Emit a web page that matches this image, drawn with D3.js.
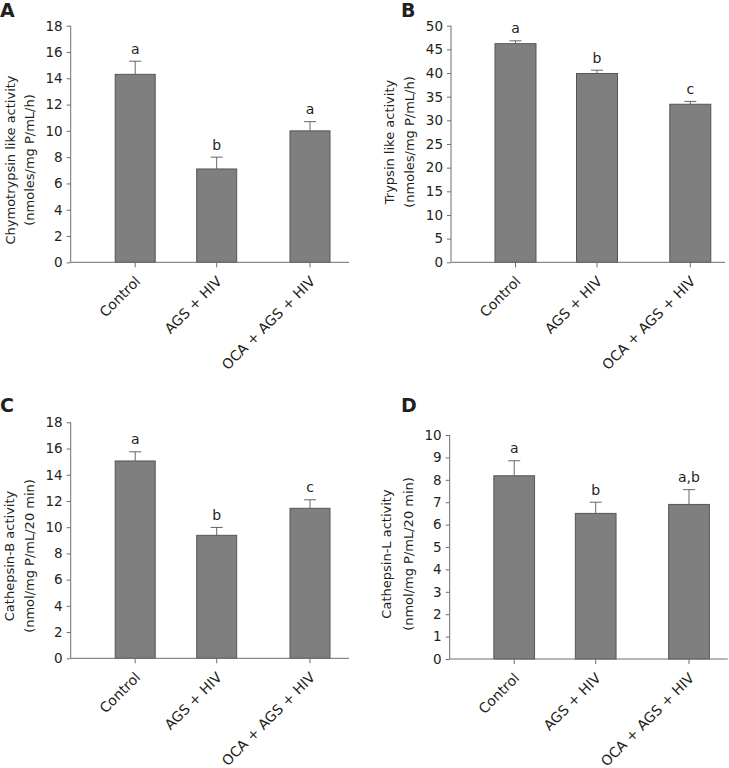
<!DOCTYPE html>
<html>
<head>
<meta charset="utf-8">
<script src="https://cdn.jsdelivr.net/npm/d3@7"></script>
<style>
  html, body { margin: 0; padding: 0; background: #fff; }
  svg text { font-family: "DejaVu Sans", Verdana, sans-serif; }
</style>
</head>
<body>
<svg id="chart" width="729" height="768"></svg>
<script>
// ---------- data ----------
const categories = ["Control", "AGS + HIV", "OCA + AGS + HIV"];

const chymoValues = [14.3, 7.1, 10.0];
const chymoErrors = [1.0, 0.9, 0.7];
const chymoLetters = ["a", "b", "a"];
const chymoTicks = [0, 2, 4, 6, 8, 10, 12, 14, 16, 18];

const trypsinValues = [46.2, 39.9, 33.4];
const trypsinErrors = [0.6, 0.7, 0.6];
const trypsinLetters = ["a", "b", "c"];
const trypsinTicks = [0, 5, 10, 15, 20, 25, 30, 35, 40, 45, 50];

const cathBValues = [15.05, 9.38, 11.44];
const cathBErrors = [0.7, 0.6, 0.65];
const cathBLetters = ["a", "b", "c"];
const cathBTicks = [0, 2, 4, 6, 8, 10, 12, 14, 16, 18];

const cathLValues = [8.18, 6.5, 6.9];
const cathLErrors = [0.67, 0.5, 0.66];
const cathLLetters = ["a", "b", "a,b"];
const cathLTicks = [0, 1, 2, 3, 4, 5, 6, 7, 8, 9, 10];

const titlesA = ["Chymotrypsin like activity", "(nmoles/mg P/mL/h)"];
const titlesB = ["Trypsin like activity", "(nmoles/mg P/mL/h)"];
const titlesC = ["Cathepsin-B activity", "(nmol/mg P/mL/20 min)"];
const titlesD = ["Cathepsin-L activity", "(nmol/mg P/mL/20 min)"];

// ---------- layout ----------
const panels = [
  { label: "A", lx: 0, ly: 17, values: chymoValues, errors: chymoErrors, letters: chymoLetters, ticks: chymoTicks, max: 18,
    titles: titlesA, ax: 70.7, top: 25.7, bottom: 262.3, right: 349, barW: 40, t1x: 9.5, t2x: 28.5, tcy: 160 },
  { label: "B", lx: 401, ly: 17, values: trypsinValues, errors: trypsinErrors, letters: trypsinLetters, ticks: trypsinTicks, max: 50,
    titles: titlesB, ax: 451, top: 25.7, bottom: 262.3, right: 725, barW: 41, t1x: 388.5, t2x: 409, tcy: 142 },
  { label: "C", lx: 0, ly: 412, values: cathBValues, errors: cathBErrors, letters: cathBLetters, ticks: cathBTicks, max: 18,
    titles: titlesC, ax: 70.7, top: 422.3, bottom: 658.3, right: 349, barW: 40, t1x: 8.5, t2x: 28.5, tcy: 556 },
  { label: "D", lx: 401, ly: 412, values: cathLValues, errors: cathLErrors, letters: cathLLetters, ticks: cathLTicks, max: 10,
    titles: titlesD, ax: 449.7, top: 435, bottom: 659, right: 727.7, barW: 40.7, t1x: 386, t2x: 408, tcy: 554 }
];

const barOffsets = [64.5, 146, 239.3];
const axisColor = "#6e6e6e";
const svg = d3.select("#chart");

panels.forEach(p => {
  const g = svg.append("g");
  const y = d3.scaleLinear().domain([0, p.max]).range([p.bottom, p.top]);
  const x = d3.scaleOrdinal().domain(categories).range(barOffsets.map(o => p.ax + o));

  // panel label
  svg.append("text").attr("x", p.lx).attr("y", p.ly)
    .attr("font-size", 19).attr("font-weight", "bold").attr("fill", "#231f20").text(p.label);

  // y axis
  const yAxis = g.append("g").attr("transform", `translate(${p.ax},0)`)
    .call(d3.axisLeft(y).tickValues(p.ticks).tickSize(4).tickPadding(4).tickFormat(d3.format("d")));
  yAxis.select(".domain").attr("stroke", axisColor).attr("d", `M0,${p.bottom}V${p.top}`);
  yAxis.selectAll(".tick line").attr("stroke", axisColor);
  yAxis.selectAll(".tick text").attr("font-size", 13.5).attr("fill", "#231f20")
    .style("font-family", '"DejaVu Sans", Verdana, sans-serif');

  // bars
  g.selectAll("rect.bar").data(categories).enter().append("rect")
    .attr("x", d => x(d) - p.barW / 2)
    .attr("y", (d, i) => y(p.values[i]))
    .attr("width", p.barW)
    .attr("height", (d, i) => y(0) - y(p.values[i]))
    .attr("fill", "#7f7f7f").attr("stroke", "#555").attr("stroke-width", 1);

  // error bars (upper only)
  categories.forEach((c, i) => {
    const cx = x(c), y0 = y(p.values[i]), y1 = y(p.values[i] + p.errors[i]);
    g.append("line").attr("x1", cx).attr("x2", cx).attr("y1", y0).attr("y2", y1).attr("stroke", "#666");
    g.append("line").attr("x1", cx - 6).attr("x2", cx + 6).attr("y1", y1).attr("y2", y1).attr("stroke", "#666");
    g.append("text").attr("x", cx).attr("y", y1 - 7.5).attr("text-anchor", "middle")
      .attr("font-size", 14).attr("fill", "#231f20").text(p.letters[i]);
  });

  // x axis
  const xa = g.append("g").attr("transform", `translate(0,${p.bottom})`);
  xa.append("line").attr("x1", p.ax).attr("x2", p.right).attr("y1", 0).attr("y2", 0).attr("stroke", axisColor);
  categories.forEach(c => {
    xa.append("line").attr("x1", x(c)).attr("x2", x(c)).attr("y1", 0).attr("y2", 5).attr("stroke", axisColor);
    xa.append("text").attr("text-anchor", "end")
      .attr("transform", `translate(${x(c) + 6},${20}) rotate(-45)`)
      .attr("font-size", 14).attr("fill", "#231f20").text(c);
  });

  // y titles
  [p.t1x, p.t2x].forEach((tx, k) => {
    svg.append("text").attr("text-anchor", "middle")
      .attr("transform", `translate(${tx + 5},${p.tcy}) rotate(-90)`)
      .attr("font-size", 13).attr("fill", "#231f20").text(p.titles[k]);
  });
});
</script>
</body>
</html>
